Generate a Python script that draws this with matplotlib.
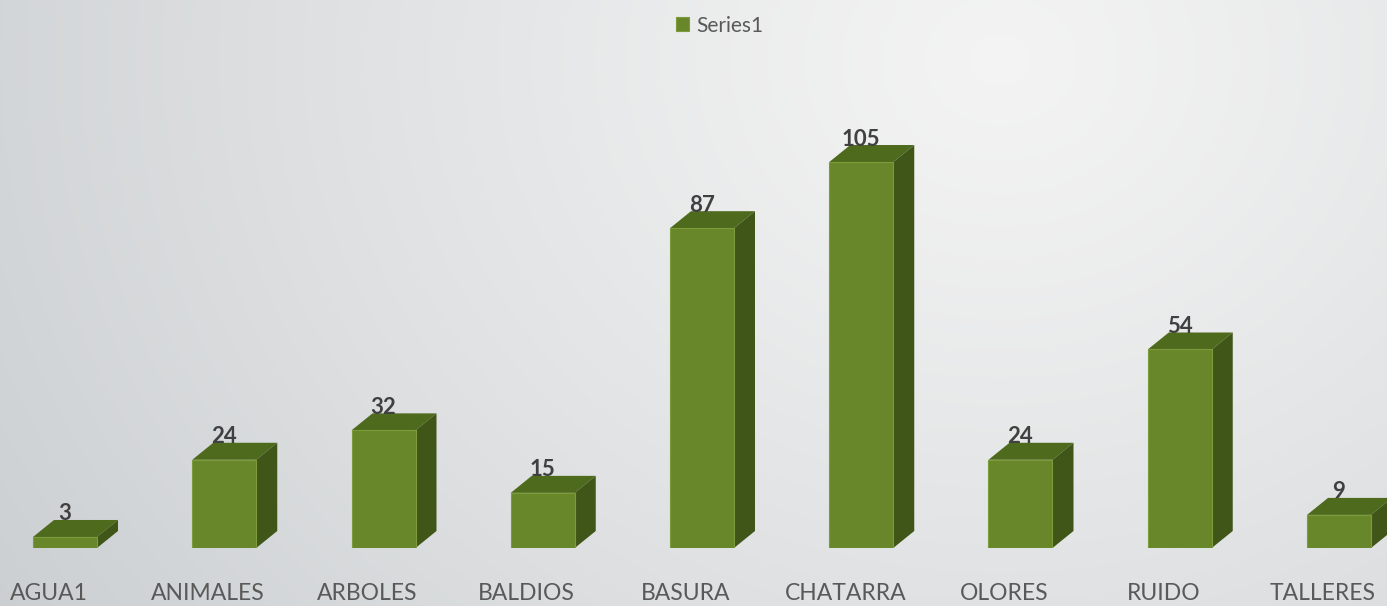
import numpy as np
import matplotlib.pyplot as plt
from matplotlib.patches import Polygon

categorias = ['AGUA1', 'ANIMALES', 'ARBOLES', 'BALDIOS', 'BASURA',
              'CHATARRA', 'OLORES', 'RUIDO', 'TALLERES']
valores = [3, 24, 32, 15, 87, 105, 24, 54, 9]
serie = 'Series1'

cor_frente = '#67872a'
cor_topo = '#4e6a1d'
cor_lado = '#405618'

W, H = 1387, 606
fig = plt.figure(figsize=(W / 100, H / 100), dpi=100)

# fundo com gradiente radial
bg = fig.add_axes([0, 0, 1, 1])
yy, xx = np.mgrid[0:H, 0:W]
r = np.sqrt((xx - 1000) ** 2 + ((yy - 60) / 0.85) ** 2) / 1250
r = np.clip(r, 0, 1) ** 1.15
c0 = np.array([0.955, 0.955, 0.955])
c1 = np.array([0.79, 0.805, 0.815])
img = c0[None, None, :] * (1 - r[..., None]) + c1[None, None, :] * r[..., None]
bg.imshow(img, aspect='auto', extent=[0, 1, 0, 1], origin='upper')
bg.axis('off')

# eixo principal: base das barras em y=548 px
base_px = 548
ax = fig.add_axes([0, (H - base_px) / H, 1, base_px / H])
ax.patch.set_alpha(0)
px_x = 159.25
px_y = 3.676
x0 = -65 / px_x
ax.set_xlim(x0, x0 + W / px_x)
ax.set_ylim(0, base_px / px_y)
ax.axis('off')

x = np.arange(len(categorias))
largura = 64 / px_x
dx = 21 / px_x
dy = 17 / px_y

ax.bar(x, valores, width=largura, color=cor_frente, edgecolor='#7c9c3c',
       linewidth=0.8, zorder=3, label=serie)

for xi, v in zip(x, valores):
    esq = xi - largura / 2
    dir_ = xi + largura / 2
    topo = Polygon([(esq, v), (dir_, v), (dir_ + dx, v + dy), (esq + dx, v + dy)],
                   closed=True, facecolor=cor_topo, edgecolor='none', zorder=2)
    lado = Polygon([(dir_, 0), (dir_ + dx, dy), (dir_ + dx, v + dy), (dir_, v)],
                   closed=True, facecolor=cor_lado, edgecolor='none', zorder=2)
    ax.add_patch(topo)
    ax.add_patch(lado)
    ax.annotate(str(v), (xi, v), xytext=(0, 23 * 0.72), textcoords='offset points',
                ha='center', va='center', fontsize=16, fontweight='bold',
                color='#404040', family='Lato', zorder=5, annotation_clip=False)

for xi, cat in zip(x, categorias):
    ax.annotate(cat, (xi, 0), xytext=(-16 * 0.72, -45 * 0.72), textcoords='offset points',
                ha='center', va='center', fontsize=16.5, color='#595959',
                family='Lato', annotation_clip=False)

leg = fig.legend(loc='upper center', bbox_to_anchor=(0.519, 1.005), frameon=False,
                 handlelength=0.65, handleheight=0.65, handletextpad=0.35,
                 prop={'family': 'Lato', 'size': 15})
for t in leg.get_texts():
    t.set_color('#595959')

plt.savefig('out.png', dpi=100)
